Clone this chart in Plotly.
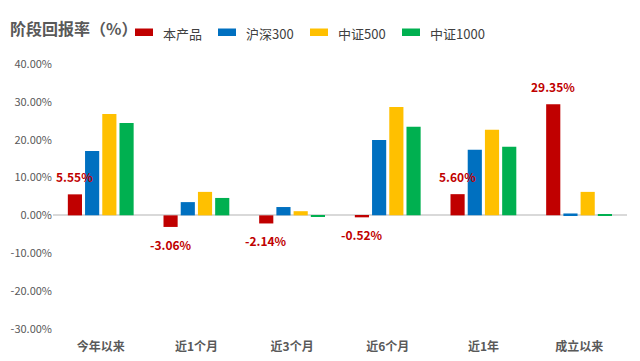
import plotly.graph_objects as go

categories = ["今年以来", "近1个月", "近3个月", "近6个月", "近1年", "成立以来"]
series_names = ["本产品", "沪深300", "中证500", "中证1000"]
product = [5.55, -3.06, -2.14, -0.52, 5.60, 29.35]
hs300 = [17.0, 3.5, 2.2, 19.9, 17.3, 0.5]
zz500 = [26.8, 6.2, 1.1, 28.6, 22.6, 6.2]
zz1000 = [24.4, 4.6, -0.3, 23.4, 18.1, 0.3]
tick_vals = [-30, -20, -10, 0, 10, 20, 30, 40]
tick_text = ["-30.00%", "-20.00%", "-10.00%", "0.00%", "10.00%", "20.00%", "30.00%", "40.00%"]

colors = ["#C00000", "#0070C0", "#FFC000", "#00B050"]
offsets = [-0.345, -0.165, 0.015, 0.195]
bw = 0.148
FONT = "Noto Sans CJK SC"

# page body has an 8px margin; shift figure so screen positions match
OFF = 8
W, H = 640 - OFF, 361 - OFF
SL, SR, ST, SB = 53, 627, 56, 338  # plot area in screen pixels
ML, MT = SL - OFF, ST - OFF
MR = W - (SR - OFF)
MB = H - (SB - OFF)
PW, PH = SR - SL, SB - ST


def px(x):
    return (x - SL) / PW


def py(y):
    return (SB - y) / PH


fig = go.Figure()
all_series = [product, hs300, zz500, zz1000]
for name, vals, c, off in zip(series_names, all_series, colors, offsets):
    fig.add_trace(go.Bar(
        x=list(range(len(categories))), y=vals, name=name,
        marker=dict(color=c, line=dict(width=0)),
        offset=off, width=bw, showlegend=False,
    ))

annotations = []
for i, v in enumerate(product):
    annotations.append(dict(
        x=i + offsets[0] + bw / 2, y=v, xref="x", yref="y",
        text=f"{v:.2f}%", showarrow=False,
        font=dict(family=FONT, size=12, color="#C00000", weight="bold"),
        yanchor="bottom" if v >= 0 else "top",
        yshift=7 if v >= 0 else -7,
    ))

# title
annotations.append(dict(
    x=px(8), y=py(28), xref="paper", yref="paper", xanchor="left", yanchor="middle",
    text="阶段回报率（%）", showarrow=False,
    font=dict(family=FONT, size=16, color="#595959", weight="bold"),
))

# manual legend
shapes = []
sw_x = [135, 218, 310, 402]
for name, c, sx in zip(series_names, colors, sw_x):
    shapes.append(dict(type="rect", xref="paper", yref="paper",
                       x0=px(sx), x1=px(sx + 18), y0=py(36), y1=py(28.5),
                       fillcolor=c, line=dict(width=0)))
    annotations.append(dict(
        x=px(sx + 26), y=py(33), xref="paper", yref="paper",
        xanchor="left", yanchor="middle", text=name, showarrow=False,
        font=dict(family=FONT, size=13, color="#404040"),
    ))

fig.update_layout(
    width=W, height=H,
    margin=dict(l=ML, r=MR, t=MT, b=MB, autoexpand=False),
    paper_bgcolor="white", plot_bgcolor="white",
    barmode="group",
    showlegend=False,
    annotations=annotations,
    shapes=shapes,
    xaxis=dict(
        range=[-0.5, 5.5], tickmode="array",
        tickvals=list(range(len(categories))), ticktext=categories,
        showgrid=False, showline=False, ticks="", automargin=False,
        tickfont=dict(family=FONT, size=12, color="#595959", weight="bold"),
        fixedrange=True,
    ),
    yaxis=dict(
        range=[-32.4, 42.1], tickmode="array",
        tickvals=tick_vals, ticktext=tick_text,
        showgrid=False, showline=False, ticks="", automargin=False,
        zeroline=True, zerolinecolor="#D9D9D9", zerolinewidth=1.5,
        tickfont=dict(family=FONT, size=11, color="#595959"),
        fixedrange=True,
    ),
)

fig.write_html("out.html", config={"displayModeBar": False})
